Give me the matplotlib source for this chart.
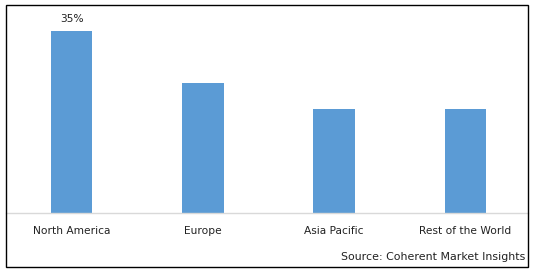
import matplotlib
matplotlib.use("Agg")
import matplotlib.pyplot as plt
from matplotlib.patches import Rectangle

categories = ["North America", "Europe", "Asia Pacific", "Rest of the World"]
values = [35, 25, 20, 20]
labels = ["35%", "", "", ""]
source = "Source: Coherent Market Insights"

W, H = 538, 272
fig = plt.figure(figsize=(W / 100, H / 100), dpi=100)

# outer border
fig.patches.append(Rectangle((6 / W, 1 - 267 / H), (528 - 6) / W, (267 - 5) / H,
                             transform=fig.transFigure, fill=False,
                             edgecolor="black", linewidth=1.0))

ax_left, ax_right = 6, 528
ax_top, ax_bottom = 5, 213
ax = fig.add_axes([ax_left / W, 1 - ax_bottom / H, (ax_right - ax_left) / W, (ax_bottom - ax_top) / H])
ax.set_facecolor("none")
x = range(len(categories))
ax.bar(x, values, width=0.315, color="#5b9bd5", zorder=2)
ax.set_xlim(-0.5, len(categories) - 0.523)
ax.set_ylim(0, 40)
for s in ["top", "right", "left"]:
    ax.spines[s].set_visible(False)
ax.spines["bottom"].set_color("#d9d9d9")
ax.spines["bottom"].set_linewidth(1.0)
ax.set_yticks([])
ax.set_xticks(list(x))
ax.set_xticklabels(categories, fontsize=7.7, color="#222222")
ax.tick_params(axis="x", length=0, pad=9)
for xi, v, lab in zip(x, values, labels):
    if lab:
        ax.annotate(lab, (xi, v), xytext=(0, 5), textcoords="offset points",
                    ha="center", va="bottom", fontsize=7.7, color="#222222")

fig.text(525 / W, 1 - 257 / H, source, ha="right", va="center", fontsize=7.9, color="#222222")

fig.savefig("out.png", dpi=100)
